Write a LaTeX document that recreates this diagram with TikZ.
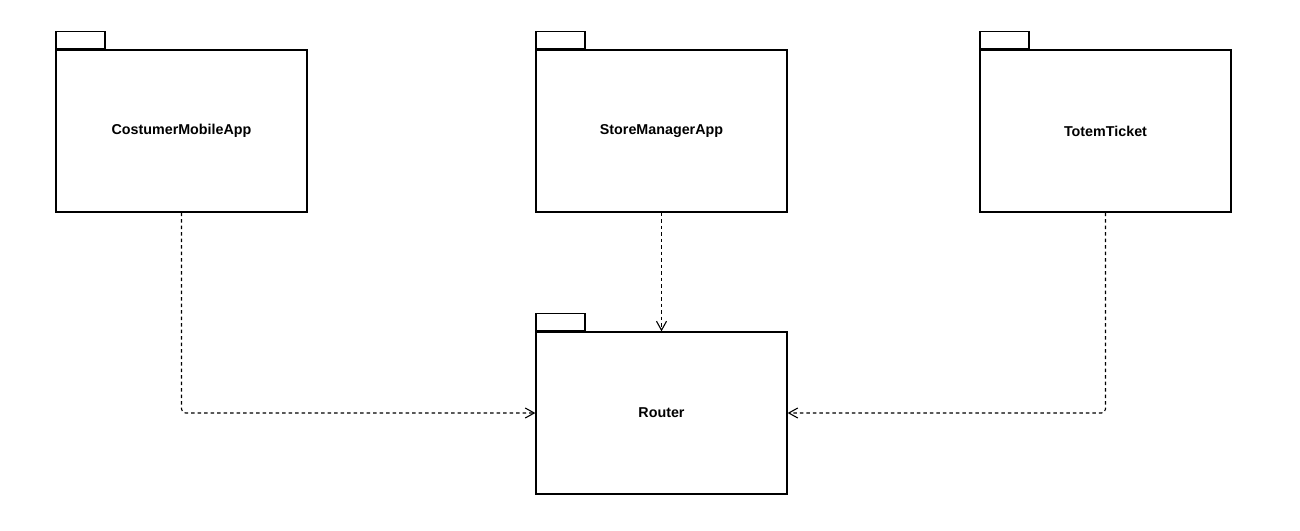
\documentclass[tikz,border=0pt]{standalone}
\usepackage{fontspec}
\setmainfont{Liberation Sans}
\usetikzlibrary{arrows.meta}

\tikzset{
  pkg/.style={draw, line width=1.3pt, rectangle, minimum width=251pt, minimum height=162pt, inner sep=0pt, fill=white, font=\fontsize{14.3}{17}\selectfont\bfseries},
  pkgtab/.style={draw, line width=1.3pt, rectangle, minimum width=49pt, minimum height=17pt, inner sep=0pt, anchor=south west},
  dep/.style={line width=1.1pt, dash pattern=on 3.5pt off 3pt, rounded corners=4pt, -{Straight Barb[length=9pt, width=10pt, line width=1.1pt]}}
}

\begin{document}
\begin{tikzpicture}[x=1pt, y=-1pt]
\useasboundingbox (0,0) rectangle (1300,530);
% Packages
\node[pkg] (mobile) at (181.5,131) {CostumerMobileApp};
\node[pkgtab] (mobileTab) at (mobile.north west) {};
\node[pkg] (manager) at (661.5,131) {StoreManagerApp};
\node[pkgtab] (managerTab) at (manager.north west) {};
\node[pkg] (totem) at (1105.5,131) {TotemTicket};
\node[pkgtab] (totemTab) at (totem.north west) {};
\node[pkg] (router) at (661.5,413) {Router};
\node[pkgtab] (routerTab) at (router.north west) {};
% Dependencies
\draw[dep] (mobile.south) |- (router.west);
\draw[dep] (manager.south) -- (router.north);
\draw[dep] (totem.south) |- (router.east);
\end{tikzpicture}
\end{document}
